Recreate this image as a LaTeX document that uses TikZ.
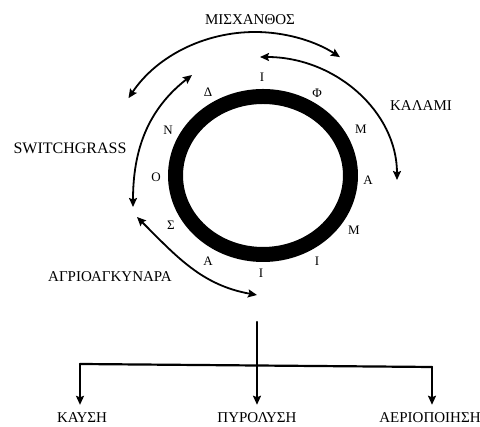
\documentclass[tikz,border=0pt]{standalone}
\usepackage{fontspec}
\setmainfont{Liberation Serif}
\usetikzlibrary{arrows.meta,calc}

\begin{document}
\begin{tikzpicture}[x=1pt,y=1pt,line cap=round,line join=round,
  lbl/.style={font=\fontsize{15}{18}\selectfont,inner sep=2pt},
  ltr/.style={font=\fontsize{13}{15}\selectfont,inner sep=1pt},
  flow/.style={line width=1.8pt,{Stealth[length=9pt,width=8pt,inset=1.5pt]}-{Stealth[length=9pt,width=8pt,inset=1.5pt]}},
  route/.style={line width=2.2pt,-{Stealth[length=9pt,width=8pt,inset=1.5pt]}}]
  \useasboundingbox (0,0) rectangle (480,427);
  % ring of crops
  \coordinate (R) at (263,251.5);
  \draw[line width=15pt] (R) ellipse [x radius=87.5, y radius=79];
  \node[ltr] (t1) at (262,350) {Ι};
  \node[ltr] (t2) at (317,334) {Φ};
  \node[ltr] (t3) at (361,298) {Μ};
  \node[ltr] (t4) at (368,247) {Α};
  \node[ltr] (t5) at (354,197) {Μ};
  \node[ltr] (t6) at (317,166) {Ι};
  \node[ltr] (t7) at (261,154) {Ι};
  \node[ltr] (t8) at (208,166) {Α};
  \node[ltr] (t9) at (171,202) {Σ};
  \node[ltr] (t10) at (156,250) {Ο};
  \node[ltr] (t11) at (168,297) {Ν};
  \node[ltr] (t12) at (208,335) {Δ};
  % crops
  \node[lbl] (misx) at (250,407) {ΜΙΣΧΑΝΘΟΣ};
  \coordinate (M1) at (255,252);
  \draw[flow] (M1) ++(147.5:150 and 143) arc[start angle=147.5,end angle=55.5,x radius=150,y radius=143];
  \node[lbl] (kal) at (421,321) {ΚΑΛΑΜΙ};
  \coordinate (M2) at (260,247);
  \draw[flow] (M2) ++(0,123) arc[start angle=90,end angle=0,x radius=137,y radius=123];
  \node[lbl,font=\fontsize{16}{18}\selectfont] (swg) at (70,279) {SWITCHGRASS};
  \coordinate (s1) at (192,352);
  \coordinate (s2) at (133,220);
  \draw[flow] (s1) to[out=218,in=90] (s2);
  \node[lbl] (agr) at (110,150) {ΑΓΡΙΟΑΓΚΥΝΑΡΑ};
  \coordinate (a1) at (137,210);
  \coordinate (a2) at (257,132);
  \draw[flow] (a1) to[out=315,in=170] (a2);
  % conversion routes
  \node[lbl] (kaysh) at (82,9) {ΚΑΥΣΗ};
  \node[lbl] (pyr) at (257,9) {ΠΥΡΟΛΥΣΗ};
  \node[lbl] (aer) at (430,9) {ΑΕΡΙΟΠΟΙΗΣΗ};
  \coordinate (top) at (257,105);
  \coordinate (fl) at (80,63);
  \coordinate (fr) at (432,60);
  \draw[route,shorten >=6pt] (top) -- (top |- pyr.north);
  \draw[line width=2.2pt] (fl) -- (fr);
  \draw[route,shorten >=6pt] (fl) -- (fl |- kaysh.north);
  \draw[route,shorten >=6pt] (fr) -- (fr |- aer.north);
\end{tikzpicture}
\end{document}
